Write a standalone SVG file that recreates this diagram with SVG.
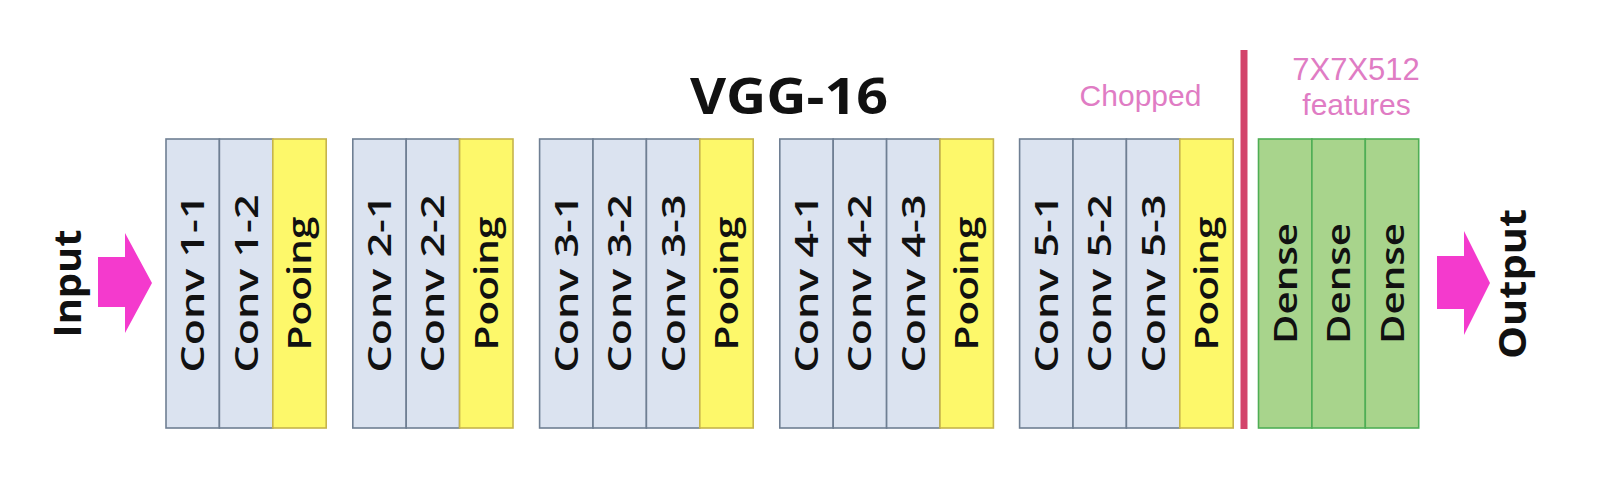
<svg xmlns="http://www.w3.org/2000/svg" width="1611" height="481" viewBox="0 0 1611 481">
<style>
  .conv rect{fill:#dbe3f0;stroke:#6f7f93;stroke-width:1.6}
  .pool rect{fill:#fdf86a;stroke:#c6b44c;stroke-width:1.6}
  .dense rect{fill:#a8d48c;stroke:#4fae55;stroke-width:1.6}
  .lbl{font-family:"Open Sans","DejaVu Sans",sans-serif;font-size:32px;font-weight:600;fill:#111;text-anchor:middle}
  .big{font-family:"Open Sans","DejaVu Sans",sans-serif;font-weight:bold;fill:#111;text-anchor:middle}
  .pink{font-family:"Liberation Sans",Arial,sans-serif;fill:#e07cc4;text-anchor:middle}
  .arrow{fill:#f43acd}
</style>
<rect width="1611" height="481" fill="#ffffff"/>
<text class="big" x="789" y="114" font-size="50" textLength="198" lengthAdjust="spacingAndGlyphs">VGG-16</text>
<text class="pink" x="1140.5" y="106" font-size="30">Chopped</text>
<text class="pink" x="1356" y="80" font-size="31">7X7X512</text>
<text class="pink" x="1356.5" y="115" font-size="30">features</text>
<text class="big" font-size="38" transform="translate(81,283.5) rotate(-90)" textLength="108" lengthAdjust="spacingAndGlyphs">Input</text>
<text class="big" font-size="38" transform="translate(1526,284) rotate(-90)" textLength="150" lengthAdjust="spacingAndGlyphs">Output</text>

<g id="conv1-1" class="conv"><rect x="166" y="139" width="53.4" height="289"/><text class="lbl" transform="translate(204.2,283.5) rotate(-90)" textLength="178" lengthAdjust="spacingAndGlyphs">Conv 1-1</text></g>
<g id="conv1-2" class="conv"><rect x="219.4" y="139" width="53.4" height="289"/><text class="lbl" transform="translate(257.6,283.5) rotate(-90)" textLength="178" lengthAdjust="spacingAndGlyphs">Conv 1-2</text></g>
<g id="pool1" class="pool"><rect x="272.8" y="139" width="53.4" height="289"/><text class="lbl" transform="translate(311,283.5) rotate(-90)" textLength="134" lengthAdjust="spacingAndGlyphs">Pooing</text></g>

<g id="conv2-1" class="conv"><rect x="352.8" y="139" width="53.4" height="289"/><text class="lbl" transform="translate(391,283.5) rotate(-90)" textLength="178" lengthAdjust="spacingAndGlyphs">Conv 2-1</text></g>
<g id="conv2-2" class="conv"><rect x="406.2" y="139" width="53.4" height="289"/><text class="lbl" transform="translate(444.4,283.5) rotate(-90)" textLength="178" lengthAdjust="spacingAndGlyphs">Conv 2-2</text></g>
<g id="pool2" class="pool"><rect x="459.6" y="139" width="53.4" height="289"/><text class="lbl" transform="translate(497.8,283.5) rotate(-90)" textLength="134" lengthAdjust="spacingAndGlyphs">Pooing</text></g>

<g id="conv3-1" class="conv"><rect x="539.6" y="139" width="53.4" height="289"/><text class="lbl" transform="translate(577.8,283.5) rotate(-90)" textLength="178" lengthAdjust="spacingAndGlyphs">Conv 3-1</text></g>
<g id="conv3-2" class="conv"><rect x="593" y="139" width="53.4" height="289"/><text class="lbl" transform="translate(631.2,283.5) rotate(-90)" textLength="178" lengthAdjust="spacingAndGlyphs">Conv 3-2</text></g>
<g id="conv3-3" class="conv"><rect x="646.4" y="139" width="53.4" height="289"/><text class="lbl" transform="translate(684.6,283.5) rotate(-90)" textLength="178" lengthAdjust="spacingAndGlyphs">Conv 3-3</text></g>
<g id="pool3" class="pool"><rect x="699.8" y="139" width="53.4" height="289"/><text class="lbl" transform="translate(738,283.5) rotate(-90)" textLength="134" lengthAdjust="spacingAndGlyphs">Pooing</text></g>

<g id="conv4-1" class="conv"><rect x="779.8" y="139" width="53.4" height="289"/><text class="lbl" transform="translate(818,283.5) rotate(-90)" textLength="178" lengthAdjust="spacingAndGlyphs">Conv 4-1</text></g>
<g id="conv4-2" class="conv"><rect x="833.2" y="139" width="53.4" height="289"/><text class="lbl" transform="translate(871.4,283.5) rotate(-90)" textLength="178" lengthAdjust="spacingAndGlyphs">Conv 4-2</text></g>
<g id="conv4-3" class="conv"><rect x="886.6" y="139" width="53.4" height="289"/><text class="lbl" transform="translate(924.8,283.5) rotate(-90)" textLength="178" lengthAdjust="spacingAndGlyphs">Conv 4-3</text></g>
<g id="pool4" class="pool"><rect x="940" y="139" width="53.4" height="289"/><text class="lbl" transform="translate(978.2,283.5) rotate(-90)" textLength="134" lengthAdjust="spacingAndGlyphs">Pooing</text></g>

<g id="conv5-1" class="conv"><rect x="1019.6" y="139" width="53.4" height="289"/><text class="lbl" transform="translate(1057.8,283.5) rotate(-90)" textLength="178" lengthAdjust="spacingAndGlyphs">Conv 5-1</text></g>
<g id="conv5-2" class="conv"><rect x="1073" y="139" width="53.4" height="289"/><text class="lbl" transform="translate(1111.2,283.5) rotate(-90)" textLength="178" lengthAdjust="spacingAndGlyphs">Conv 5-2</text></g>
<g id="conv5-3" class="conv"><rect x="1126.4" y="139" width="53.4" height="289"/><text class="lbl" transform="translate(1164.6,283.5) rotate(-90)" textLength="178" lengthAdjust="spacingAndGlyphs">Conv 5-3</text></g>
<g id="pool5" class="pool"><rect x="1179.8" y="139" width="53.4" height="289"/><text class="lbl" transform="translate(1218,283.5) rotate(-90)" textLength="134" lengthAdjust="spacingAndGlyphs">Pooing</text></g>

<g id="chop-line"><rect x="1240.5" y="50" width="7" height="379" fill="#d3446b"/></g>

<g id="dense1" class="dense"><rect x="1258.5" y="139" width="53.4" height="289"/><text class="lbl" transform="translate(1296.7,283.5) rotate(-90)" textLength="121" lengthAdjust="spacingAndGlyphs">Dense</text></g>
<g id="dense2" class="dense"><rect x="1311.9" y="139" width="53.4" height="289"/><text class="lbl" transform="translate(1350.1,283.5) rotate(-90)" textLength="121" lengthAdjust="spacingAndGlyphs">Dense</text></g>
<g id="dense3" class="dense"><rect x="1365.3" y="139" width="53.4" height="289"/><text class="lbl" transform="translate(1403.5,283.5) rotate(-90)" textLength="121" lengthAdjust="spacingAndGlyphs">Dense</text></g>

<g id="connectors">
  <polygon class="arrow" points="98,257 125,257 125,233 152,283 125,333 125,307 98,307"/>
  <polygon class="arrow" points="1437,256 1464,256 1464,231 1490,283 1464,335 1464,309 1437,309"/>
</g>
</svg>
